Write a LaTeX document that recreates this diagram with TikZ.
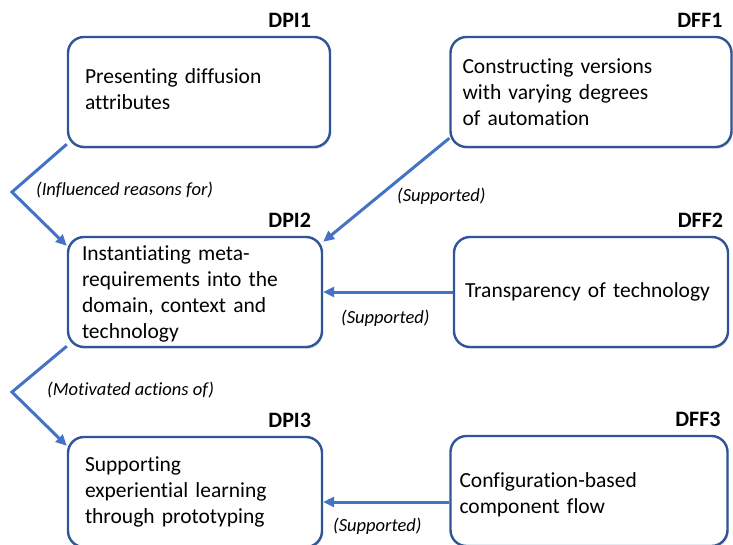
\documentclass[tikz,border=0pt]{standalone}
\usepackage{fontspec}
\setmainfont{Carlito}[Ligatures=NoCommon]
\usetikzlibrary{arrows.meta,shadows}

\definecolor{boxblue}{HTML}{2F5597}
\definecolor{arrowblue}{HTML}{4472C4}

\tikzset{
  box/.style={draw=boxblue, line width=2.4pt, rounded corners=16pt, fill=white,
    minimum height=110pt, inner ysep=2pt, align=left,
    font=\fontsize{21.5}{26}\selectfont,
    drop shadow={shadow xshift=1.2pt, shadow yshift=-1.8pt, opacity=0.25}},
  tag/.style={font=\fontsize{22}{24}\selectfont\bfseries, inner sep=0pt, anchor=base east},
  relation/.style={font=\fontsize{18.5}{20}\selectfont\itshape, inner sep=0pt, anchor=west},
  link/.style={draw=arrowblue, line width=3pt, -{Triangle[length=11pt,width=10pt]}}
}

\begin{document}
\begin{tikzpicture}[x=1pt,y=-1pt]
  \useasboundingbox (0,0) rectangle (733,544);

  % design principles (left column)
  \node[box, text width=228pt, inner xsep=17pt] (dpi1) at (199,92) {Presenting diffusion\\attributes\vspace*{6pt}};
  \node[box, text width=226pt, inner xsep=14pt] (dpi2) at (195,292) {Instantiating meta-\\requirements into the\\domain, context and\\technology\vspace*{-4pt}};
  \node[box, text width=220pt, inner xsep=17pt] (dpi3) at (195,492) {Supporting\\experiential learning\\through prototyping};

  % design features (right column)
  \node[box, text width=257pt, inner xsep=12pt] (dff1) at (591,92) {Constructing versions\\with varying degrees\\of automation};
  \node[box, text width=252pt, inner xsep=11pt] (dff2) at (591,292) {Transparency of technology};
  \node[box, text width=259pt, inner xsep=9pt] (dff3) at (589,491) {Configuration-based\\component flow\vspace*{-8pt}};

  % tags
  \node[tag] (dpi1tag) at ([shift={(-20,-8)}]dpi1.north east) {DPI1};
  \node[tag] (dpi2tag) at ([shift={(-12,-8)}]dpi2.north east) {DPI2};
  \node[tag] (dpi3tag) at ([shift={(-12,-8)}]dpi3.north east) {DPI3};
  \node[tag] (dff1tag) at ([shift={(-10,-8)}]dff1.north east) {DFF1};
  \node[tag] (dff2tag) at ([shift={(-6,-8)}]dff2.north east) {DFF2};
  \node[tag] (dff3tag) at ([shift={(-8,-8)}]dff3.north east) {DFF3};

  % bend points
  \coordinate (bend1) at (12,192);
  \coordinate (bend2) at (12,392);

  % connectors
  \draw[link] ([yshift=4pt]dpi1.south west) -- (bend1) -- ([yshift=-10pt]dpi2.north west);
  \draw[link] ([yshift=10pt]dff1.south west) -- ([yshift=-6pt]dpi2.north east);
  \draw[link] (dff2.west) -- (dpi2.east);
  \draw[link] ([yshift=2pt]dpi2.south west) -- (bend2) -- ([yshift=-10pt]dpi3.north west);
  \draw[link] ([yshift=-11pt]dff3.west) coordinate (from3) -- (from3 -| dpi3.east);

  % relation labels
  \node[relation] (rel1) at (36,190) {(Influenced reasons for)};
  \node[relation] (rel2) at (397,196) {(Supported)};
  \node[relation] (rel3) at (341,318) {(Supported)};
  \node[relation] (rel4) at (47,390) {(Motivated actions of)};
  \node[relation] (rel5) at (333,526) {(Supported)};
\end{tikzpicture}
\end{document}
